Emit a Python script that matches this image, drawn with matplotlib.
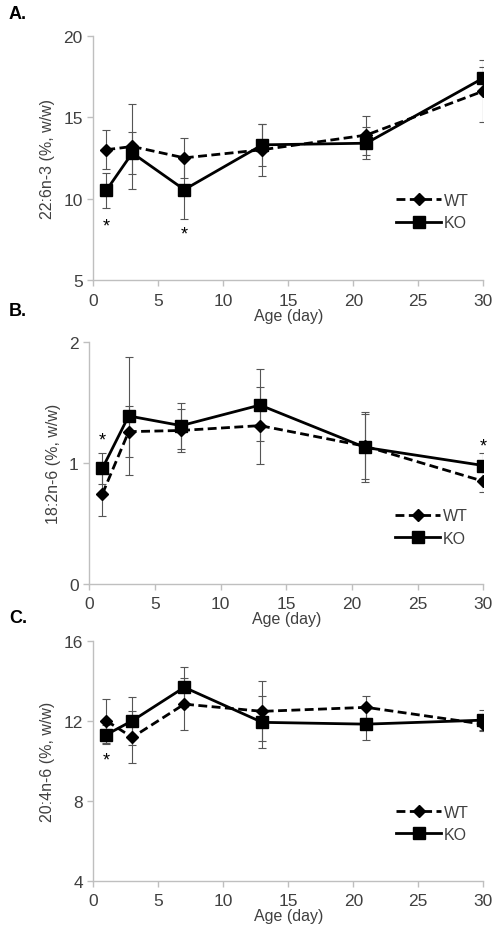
import matplotlib
matplotlib.use('Agg')
from matplotlib import pyplot as plt

plt.rcParams['font.family'] = ['Liberation Sans', 'DejaVu Sans']

# data
days = [1, 3, 7, 13, 21, 30]

dha_wt = [13.0, 13.2, 12.5, 13.0, 13.9, 16.6]
dha_wt_err = [1.2, 2.6, 1.25, 1.6, 1.2, 1.9]
dha_ko = [10.5, 12.8, 10.55, 13.3, 13.4, 17.4]
dha_ko_err = [1.05, 1.3, 1.8, 1.3, 1.0, 0.7]

la_wt = [0.745, 1.26, 1.27, 1.31, 1.14, 0.85]
la_wt_err = [0.18, 0.21, 0.18, 0.32, 0.27, 0.09]
la_ko = [0.957, 1.39, 1.31, 1.48, 1.13, 0.98]
la_ko_err = [0.13, 0.49, 0.19, 0.30, 0.29, 0.10]

aa_wt = [12.0, 11.17, 12.83, 12.47, 12.67, 11.83]
aa_wt_err = [1.1, 1.3, 1.3, 1.5, 0.55, 0.35]
aa_ko = [11.3, 12.0, 13.67, 11.92, 11.83, 12.03]
aa_ko_err = [0.47, 1.2, 1.0, 1.3, 0.8, 0.5]

panels = [
	('A.', '22:6n-3 (%, w/w)', dha_wt, dha_wt_err, dha_ko, dha_ko_err,
	 (5, 20), [5, 10, 15, 20], [(1, 8.3), (7, 7.8)], 0.28),
	('B.', '18:2n-6 (%, w/w)', la_wt, la_wt_err, la_ko, la_ko_err,
	 (0, 2), [0, 1, 2], [(1, 1.19), (30, 1.145)], 0.236),
	('C.', '20:4n-6 (%, w/w)', aa_wt, aa_wt_err, aa_ko, aa_ko_err,
	 (4, 16), [4, 8, 12, 16], [(1, 10.05)], 0.24),
]

# axes rectangles in figure fractions
rects = [
	(0.1862, 0.7001, 0.7784, 0.2607),
	(0.1782, 0.3757, 0.7864, 0.2580),
	(0.1862, 0.0590, 0.7784, 0.2561),
]
letter_y = [0.984, 0.668, 0.340]

fig = plt.figure(figsize=(5.01, 9.37), dpi=100)
grey = '#bfbfbf'
txt = '#404040'

for (letter, ylabel, wt, wt_err, ko, ko_err, ylim, yticks, stars, leg_y), rect, ly in zip(panels, rects, letter_y):
	ax = fig.add_axes(rect)
	ax.errorbar(days, wt, yerr=wt_err, fmt='none', ecolor='#555555', elinewidth=0.8, capsize=3, capthick=0.8, zorder=2)
	ax.errorbar(days, ko, yerr=ko_err, fmt='none', ecolor='#555555', elinewidth=0.8, capsize=3, capthick=0.8, zorder=2)
	ax.plot(days, wt, color='black', linestyle='--', dashes=(3.2, 1.6), linewidth=2.0,
			marker='D', markersize=6, label='WT', zorder=3)
	ax.plot(days, ko, color='black', linestyle='-', linewidth=2.0,
			marker='s', markersize=8.5, label='KO', zorder=4)
	for sx, sy in stars:
		ax.text(sx, sy, '*', ha='center', va='center', fontsize=13, color='black')
	ax.set_xlim(0, 30)
	ax.set_ylim(*ylim)
	ax.set_xticks([0, 5, 10, 15, 20, 25, 30])
	ax.set_yticks(yticks)
	for s in ['top', 'right']:
		ax.spines[s].set_visible(False)
	for s in ['left', 'bottom']:
		ax.spines[s].set_color(grey)
		ax.spines[s].set_linewidth(1.0)
	ax.tick_params(colors=grey, labelcolor=txt, labelsize=12.5, length=4, width=1.0)
	ax.tick_params(axis='x', pad=5)
	ax.set_xlabel('Age (day)', fontsize=11.5, color=txt, labelpad=0)
	ax.set_ylabel(ylabel, fontsize=11.5, color=txt, labelpad=6)
	ax.legend(loc='center left', bbox_to_anchor=(0.74, leg_y), frameon=False,
			  fontsize=11.5, handlelength=2.8, handletextpad=0.2, labelspacing=0.45,
			  labelcolor=txt)
	fig.text(0.018, ly, letter, fontsize=13, fontweight='bold', va='center')

plt.savefig('out.png', dpi=100)
